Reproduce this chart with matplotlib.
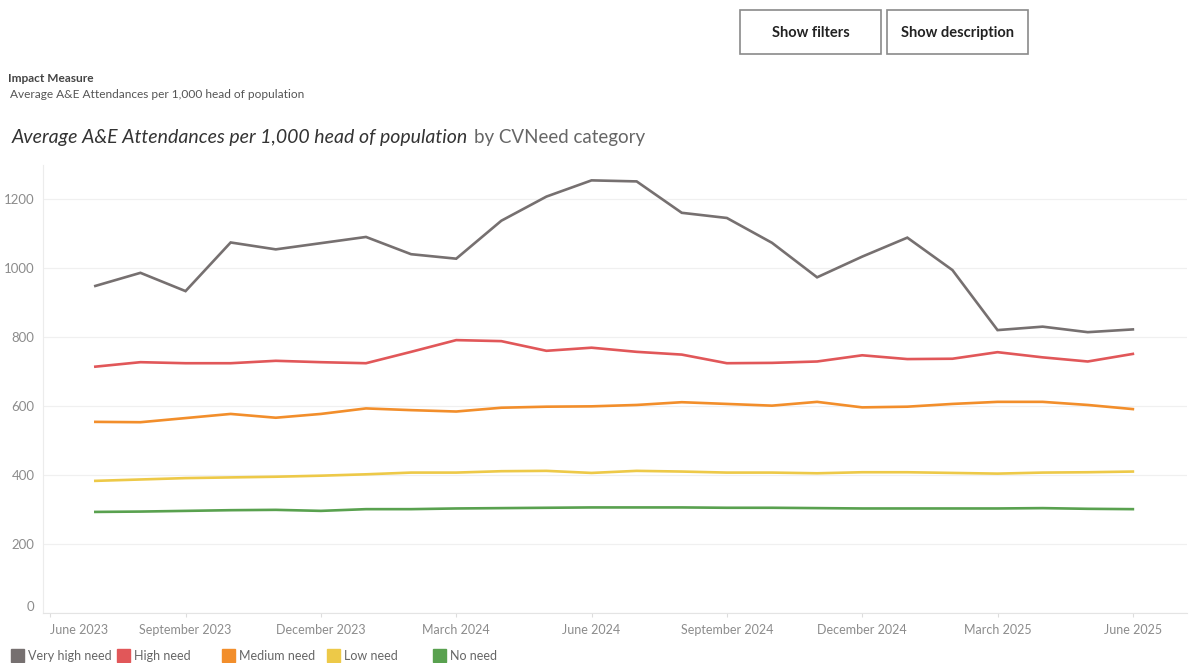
import matplotlib.pyplot as plt
from matplotlib.patches import Rectangle
import numpy as np

plt.rcParams['font.family'] = ['Lato', 'DejaVu Sans']

# Months from July 2023 to June 2025 (index 0 = June 2023)
months = np.arange(1, 25)

very_high = [948, 986, 933, 1074, 1054, 1072, 1090, 1040, 1027, 1137, 1207, 1254,
             1251, 1160, 1145, 1073, 973, 1033, 1088, 994, 820, 830, 814, 822]
high = [714, 727, 724, 724, 731, 727, 724, 757, 791, 788, 760, 769,
        757, 749, 724, 725, 729, 747, 736, 737, 756, 741, 729, 751]
medium = [554, 553, 565, 577, 566, 577, 593, 588, 584, 595, 598, 599,
          603, 611, 606, 601, 612, 596, 598, 606, 612, 612, 603, 591]
low = [383, 387, 391, 393, 395, 398, 402, 407, 407, 411, 412, 406,
       412, 410, 407, 407, 405, 408, 408, 406, 404, 407, 408, 410]
no_need = [293, 294, 296, 298, 299, 296, 301, 301, 303, 304, 305, 306,
           306, 306, 305, 305, 304, 303, 303, 303, 303, 304, 302, 301]

series = [
    ('Very high need', very_high, '#767070'),
    ('High need', high, '#e15759'),
    ('Medium need', medium, '#f28e2b'),
    ('Low need', low, '#edc948'),
    ('No need', no_need, '#59a14f'),
]

tick_months = [0, 3, 6, 9, 12, 15, 18, 21, 24]
tick_labels = ['June 2023', 'September 2023', 'December 2023', 'March 2024',
               'June 2024', 'September 2024', 'December 2024', 'March 2025',
               'June 2025']
y_ticks = [0, 200, 400, 600, 800, 1000, 1200]

W, H = 1192, 663
fig = plt.figure(figsize=(W / 100, H / 100), dpi=100)
ax = fig.add_axes([43 / W, (H - 613) / H, (1187 - 43) / W, (613 - 164.5) / H])

for name, vals, col in series:
    ax.plot(months, vals, color=col, lw=1.9, solid_joinstyle='miter')

ax.set_xlim(-0.16, 25.2)
ax.set_ylim(0, 1300)
ax.set_yticks(y_ticks)
ax.set_yticklabels([str(v) for v in y_ticks])
ax.get_yticklabels()[0].set_verticalalignment('bottom')
ax.set_xticks(tick_months)
ax.set_xticklabels(tick_labels)
ax.get_xticklabels()[0].set_horizontalalignment('left')

ax.grid(axis='y', color='#f0f0f0', lw=0.9)
ax.set_axisbelow(True)
for side in ['top', 'right']:
    ax.spines[side].set_visible(False)
ax.spines['left'].set_color('#ececec')
ax.spines['bottom'].set_color('#e4e4e4')
ax.tick_params(axis='y', length=0, colors='#8c8c8c', labelsize=9.5, pad=6)
ax.tick_params(axis='x', length=3, color='#dddddd', colors='#8c8c8c',
               labelsize=9, pad=5)

# header texts
fig.text(8 / W, 1 - 78 / H, 'Impact Measure', fontsize=8.6, color='#444444',
         fontweight='bold', va='center')
fig.text(10 / W, 1 - 95 / H, 'Average A&E Attendances per 1,000 head of population',
         fontsize=8.6, color='#555555', va='center')

t1 = fig.text(12 / W, 1 - 138 / H,
              'Average A&E Attendances per 1,000 head of population',
              fontsize=14, style='italic', color='#333333', va='center')
renderer = fig.canvas.get_renderer()
bb = t1.get_window_extent(renderer=renderer)
fig.text(bb.x1 / W + 6 / W, 1 - 138 / H, 'by CVNeed category', fontsize=13.5,
         color='#666666', va='center')

# buttons
for x0, label in [(740, 'Show filters'), (887, 'Show description')]:
    fig.patches.append(Rectangle((x0 / W, 1 - 54 / H), 141 / W, 44 / H,
                                 transform=fig.transFigure, fill=False,
                                 edgecolor='#8a8a8a', lw=1.2))
    fig.text((x0 + 70.5) / W, 1 - 33 / H, label, fontsize=10.5, fontweight='bold',
             color='#222222', ha='center', va='center')

# legend
legend_x = [11, 117, 222, 327, 433]
for (name, vals, col), lx in zip(series, legend_x):
    fig.patches.append(Rectangle((lx / W, 1 - 662 / H), 13 / W, 13 / H,
                                 transform=fig.transFigure, color=col))
    fig.text((lx + 17) / W, 1 - 656 / H, name, fontsize=9, color='#666666',
             va='center')

fig.savefig('out.png', dpi=100, facecolor='white')
